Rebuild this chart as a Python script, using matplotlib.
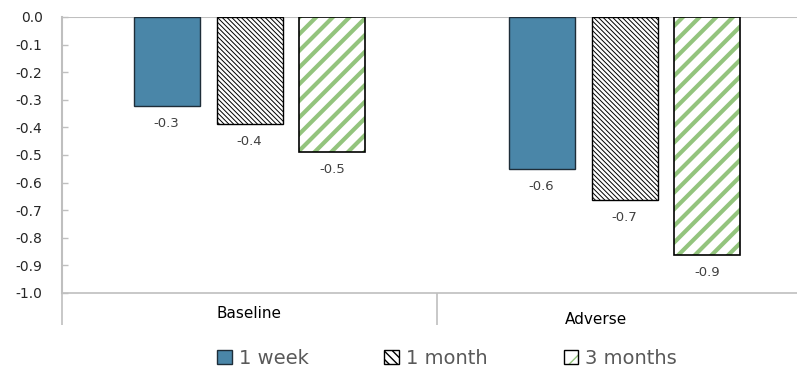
import matplotlib
matplotlib.use("Agg")
import matplotlib.pyplot as plt
from matplotlib.patches import Patch
from matplotlib.legend_handler import HandlerTuple
import numpy as np

# Data
categories = ["Baseline", "Adverse"]
series = ["1 week", "1 month", "3 months"]
week_vals = [-0.322, -0.551]
month_vals = [-0.388, -0.663]
quarter_vals = [-0.489, -0.862]
y_ticks = [0.0, -0.1, -0.2, -0.3, -0.4, -0.5, -0.6, -0.7, -0.8, -0.9, -1.0]

plt.rcParams["font.family"] = ["DejaVu Sans"]
plt.rcParams["axes.unicode_minus"] = False

W, H = 797, 372
fig = plt.figure(figsize=(W / 100, H / 100), dpi=100)
# axes extends a little past the right edge of the canvas
ax = fig.add_axes([62 / W, 1 - 293 / H, (812 - 62) / W, 276 / H])

x = np.arange(len(categories))
width = 0.176
offset = 0.221
blue = "#4a86a8"
green = "#93c47d"
grey = "#bfbfbf"
label_color = "#404040"

b1 = ax.bar(x - offset, week_vals, width, color=blue, edgecolor="#1e2d38", linewidth=1.0, zorder=3)

with plt.rc_context({"hatch.linewidth": 0.7}):
    b2 = ax.bar(x, month_vals, width, color="white", edgecolor="black",
                hatch="\\" * 7, linewidth=1.0, zorder=3)

with plt.rc_context({"hatch.linewidth": 3.0}):
    ax.bar(x + offset, quarter_vals, width, color="white", edgecolor=green,
           hatch="//", linewidth=0, zorder=3)
b3 = ax.bar(x + offset, quarter_vals, width, color="none", edgecolor="black",
            linewidth=1.2, zorder=4)

for bars, vals in ((b1, week_vals), (b2, month_vals), (b3, quarter_vals)):
    for rect, v in zip(bars, vals):
        ax.annotate(f"{v:.1f}", (rect.get_x() + rect.get_width() / 2, v),
                    xytext=(0, -12.5), textcoords="offset points",
                    ha="center", va="center", fontsize=9.5, color=label_color)

ax.set_xlim(-0.5, 1.5)
ax.set_ylim(-1.0, 0.0)
ax.set_yticks(y_ticks)
ax.set_yticklabels([f"{t:.1f}" for t in y_ticks], fontsize=10, color="#262626")
ax.tick_params(axis="y", direction="in", length=4, width=1, color=grey, pad=14)

# category separators drawn as long minor ticks below the axis
ax.set_xticks([])
ax.set_xticks([-0.5, 0.5, 1.5], minor=True)
ax.tick_params(axis="x", which="minor", direction="out", length=23, width=1.2, color=grey)
ax.tick_params(axis="x", which="major", length=0)

for spine in ("top", "right"):
    ax.spines[spine].set_visible(False)
ax.spines["left"].set_color(grey)
ax.spines["left"].set_linewidth(1.5)
ax.spines["bottom"].set_color(grey)
ax.spines["bottom"].set_linewidth(1.2)
ax.axhline(0, color=grey, linewidth=1.5, zorder=1)

# category labels
label_x = [(249 - 62) / 375 - 0.5, (596 - 62) / 375 - 0.5]
label_y = [1 - 314 / H, 1 - 320 / H]
for cx, cy, name in zip(label_x, label_y, categories):
    fig.text(62 / W + (cx + 0.5) * 375 / W, cy, name, ha="center", va="center",
             fontsize=11, color="black")

# legend handles
h1 = Patch(facecolor=blue, edgecolor="#1e2d38", linewidth=1.0)
with plt.rc_context({"hatch.linewidth": 0.7}):
    h2 = Patch(facecolor="white", edgecolor="black", hatch="\\" * 4, linewidth=1.0)
with plt.rc_context({"hatch.linewidth": 3.0}):
    h3_fill = Patch(facecolor="white", edgecolor=green, hatch="/", linewidth=0)
h3_edge = Patch(facecolor="none", edgecolor="black", linewidth=1.0)

leg = fig.legend([h1, h2, (h3_fill, h3_edge)], series, loc="center",
                 bbox_to_anchor=(447 / W, 1 - 358 / H),
                 handler_map={tuple: HandlerTuple(ndivide=1, pad=0)},
                 ncol=3, frameon=False, fontsize=14, handlelength=0.75, handleheight=0.7,
                 handletextpad=0.36, columnspacing=3.9, labelcolor="#595959",
                 borderpad=0, borderaxespad=0)

fig.savefig("out.png", dpi=100)
